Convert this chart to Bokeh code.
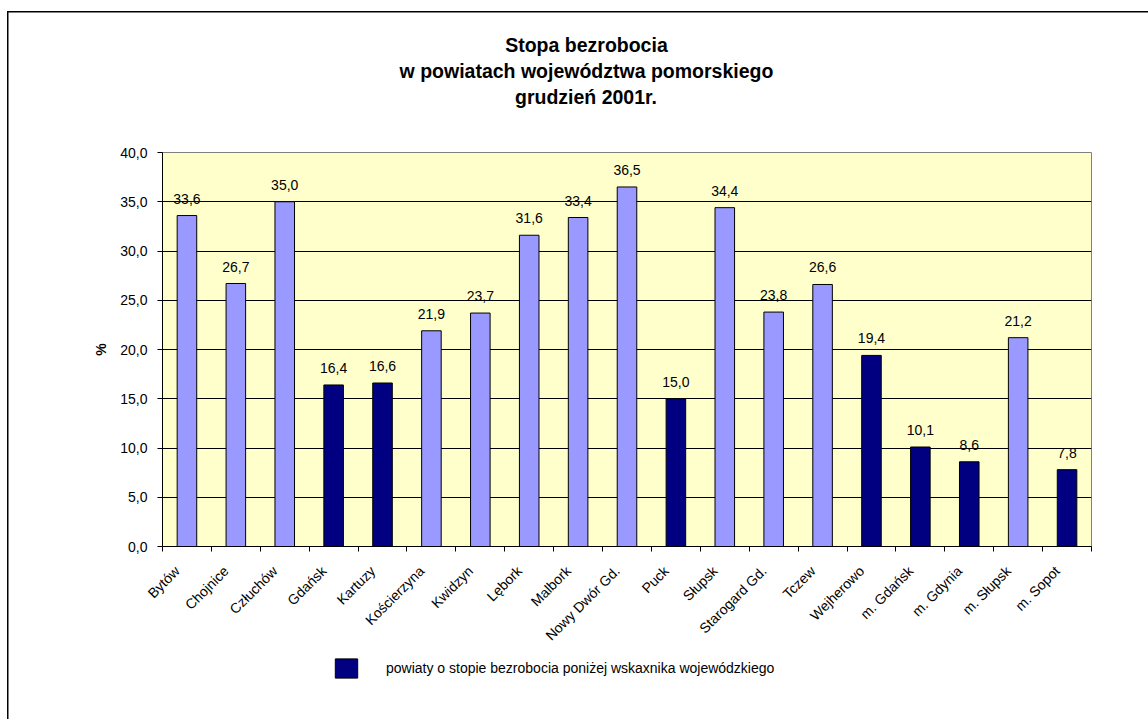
import math
from bokeh.plotting import figure
from bokeh.layouts import column
from bokeh.models import (Range1d, FixedTicker, ColumnDataSource, LabelSet,
                          Legend, LegendItem, Title)
from bokeh.core.properties import value
from bokeh.embed import file_html
from bokeh.resources import INLINE

categories = ["Bytów", "Chojnice", "Człuchów", "Gdańsk", "Kartuzy", "Kościerzyna",
              "Kwidzyn", "Lębork", "Malbork", "Nowy Dwór Gd.", "Puck", "Słupsk",
              "Starogard Gd.", "Tczew", "Wejherowo", "m. Gdańsk", "m. Gdynia",
              "m. Słupsk", "m. Sopot"]
rates = [33.6, 26.7, 35.0, 16.4, 16.6, 21.9, 23.7, 31.6, 33.4, 36.5, 15.0, 34.4,
         23.8, 26.6, 19.4, 10.1, 8.6, 21.2, 7.8]
below_avg = [False, False, False, True, True, False, False, False, False, False,
             True, False, False, False, True, True, True, False, True]
y_ticks = [0, 5, 10, 15, 20, 25, 30, 35, 40]
y_tick_labels = ["0,0", "5,0", "10,0", "15,0", "20,0", "25,0", "30,0", "35,0", "40,0"]
title_lines = ["Stopa bezrobocia", "w powiatach województwa pomorskiego", "grudzień 2001r."]
legend_label = "powiaty o stopie bezrobocia poniżej wskaxnika wojewódzkiego"
y_label = "%"

FONT = "Liberation Sans"
LIGHT = "#9999FF"
DARK = "#000080"

n = len(categories)
centers = [i + 0.5 for i in range(n)]
label_pos = [i + 0.3 for i in range(n)]   # rotated category labels sit slightly left of bar centre

p = figure(width=1148, height=652, x_range=Range1d(0, n), y_range=Range1d(0, 40),
           output_backend="svg", toolbar_location=None, title_location=None,
           min_border_left=162, min_border_right=57, min_border_top=152, min_border_bottom=105)
p.background_fill_color = "#FFFFCC"
p.border_fill_alpha = 0
p.outline_line_color = "#808080"
p.outline_line_width = 1

light_src = ColumnDataSource(dict(
    x=[c for c, b in zip(centers, below_avg) if not b],
    top=[v for v, b in zip(rates, below_avg) if not b]))
dark_src = ColumnDataSource(dict(
    x=[c for c, b in zip(centers, below_avg) if b],
    top=[v for v, b in zip(rates, below_avg) if b]))

# grid
p.xgrid.visible = False
p.ygrid.ticker = FixedTicker(ticks=y_ticks[1:-1])
p.ygrid.grid_line_color = "black"
p.ygrid.grid_line_width = 1

p.vbar(x="x", top="top", width=0.4, source=light_src, fill_color=LIGHT, line_color="black", line_width=1)
p.vbar(x="x", top="top", width=0.4, source=dark_src, fill_color=DARK, line_color="black", line_width=1)

# value labels
lab_src = ColumnDataSource(dict(x=centers, y=rates,
                                text=[f"{v:.1f}".replace(".", ",") for v in rates]))
p.add_layout(LabelSet(x="x", y="y", text="text", source=lab_src, text_align="center",
                      text_baseline="alphabetic", y_offset=12, text_font=value(FONT),
                      text_font_size=value("14px"), text_color="black"))

# x axis
xa = p.xaxis[0]
xa.ticker = FixedTicker(ticks=label_pos, minor_ticks=list(range(n + 1)))
xa.major_label_overrides = {c: name for c, name in zip(label_pos, categories)}
xa.major_label_orientation = math.pi / 4
xa.major_tick_in = 0
xa.major_tick_out = 0
xa.minor_tick_in = 0
xa.minor_tick_out = 5
xa.minor_tick_line_color = "black"
xa.axis_line_color = "black"
xa.major_label_text_font = FONT
xa.major_label_text_font_size = "14px"
xa.major_label_text_color = "black"
xa.major_label_standoff = 17

# y axis
ya = p.yaxis[0]
ya.ticker = FixedTicker(ticks=y_ticks, minor_ticks=[])
ya.major_label_overrides = {t: l for t, l in zip(y_ticks, y_tick_labels)}
ya.major_tick_in = 0
ya.major_tick_out = 5
ya.axis_line_color = "black"
ya.major_tick_line_color = "black"
ya.major_label_text_font = FONT
ya.major_label_text_font_size = "14px"
ya.major_label_text_color = "black"
ya.major_label_standoff = 10
ya.axis_label = y_label
ya.axis_label_text_font = FONT
ya.axis_label_text_font_size = "14px"
ya.axis_label_text_font_style = "bold"
ya.axis_label_text_color = "black"
ya.axis_label_standoff = 8

# title: spacer next to the frame, then three lines outward
p.add_layout(Title(text=" ", standoff=20, text_font=FONT, text_font_size="19.5px"), "above")
for txt, off in zip(reversed(title_lines), [352.5, 237.1, 342.7]):
    p.add_layout(Title(text=txt, align="left", offset=off, standoff=2,
                       text_font=FONT, text_font_style="bold", text_font_size="19.5px",
                       text_color="black"), "above")

# legend strip underneath (key renderer reuses the dark series, hidden; only its key is drawn)
pl = figure(width=1148, height=67, x_range=Range1d(0, n), y_range=Range1d(-2, -1),
            output_backend="svg", toolbar_location=None, title_location=None,
            x_axis_location=None, y_axis_location=None, min_border=0)
pl.xgrid.visible = False
pl.ygrid.visible = False
pl.outline_line_color = None
pl.background_fill_alpha = 0
pl.border_fill_alpha = 0
r_key = pl.vbar(x="x", top="top", width=0.4, source=dark_src, fill_color=DARK,
                line_color="black", line_width=1)
r_key.visible = False
legend = Legend(items=[LegendItem(label=legend_label, renderers=[r_key])],
                location=(170, 39), glyph_width=28, glyph_height=24, label_standoff=26,
                padding=0, margin=0, border_line_color=None, background_fill_alpha=0,
                inactive_fill_alpha=0,
                label_text_font=FONT, label_text_font_size="14px", label_text_color="black")
pl.add_layout(legend)

page = column(p, pl, spacing=0,
              styles={"background": "linear-gradient(#000,#000) 7px 11px / 1.5px 100% no-repeat, "
                                    "linear-gradient(#000,#000) 7px 11px / 100% 1.5px no-repeat, white"})

open("out.html", "w").write(file_html(page, INLINE))
